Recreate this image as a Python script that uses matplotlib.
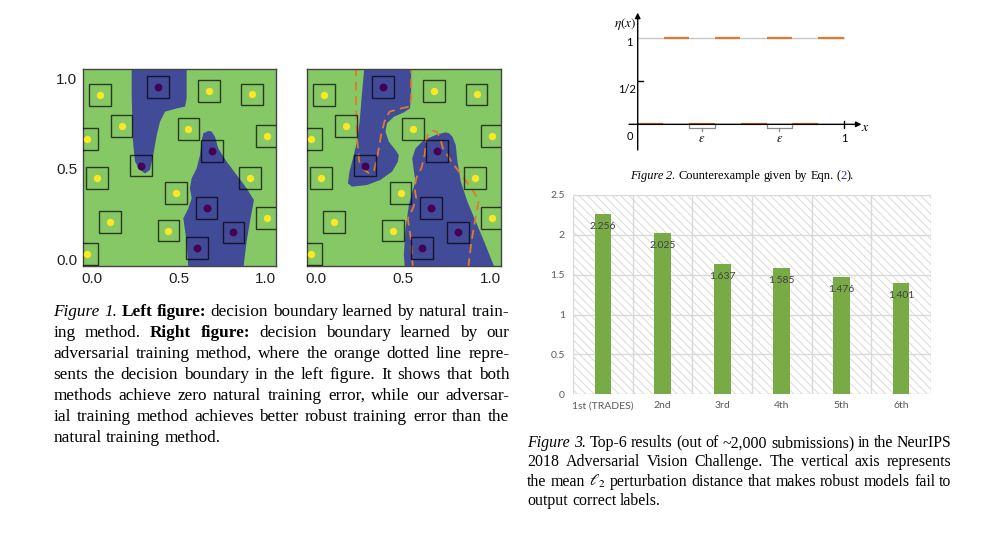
import matplotlib
matplotlib.use('Agg')
import matplotlib.pyplot as plt
import numpy as np
from matplotlib.patches import Polygon, Rectangle

plt.rcParams['mathtext.fontset'] = 'stix'
plt.rcParams['hatch.linewidth'] = 0.6

W, H = 1000, 539
SERIF = 'Liberation Serif'

# ---- Figure 1 data: training points and the learned regions ----
yellow_x = [0.048, 0.675, 0.920, 0.172, 0.556, -0.025, 1.010, 0.029, 0.910, 0.485, 0.105, 0.441, 1.006, -0.025]
yellow_y = [0.907, 0.929, 0.910, 0.738, 0.720, 0.664, 0.683, 0.448, 0.451, 0.369, 0.209, 0.160, 0.231, 0.029]
purple_x = [0.383, 0.282, 0.692, 0.661, 0.815, 0.606]
purple_y = [0.953, 0.518, 0.600, 0.283, 0.150, 0.066]

# natural training boundary (left figure)
left_a_x = [0.230, 0.230, 0.236, 0.249, 0.278, 0.307, 0.335, 0.354, 0.374, 0.393, 0.422, 0.489, 0.537, 0.546, 0.546]
left_a_y = [1.06, 0.907, 0.668, 0.540, 0.494, 0.475, 0.494, 0.576, 0.686, 0.760, 0.815, 0.833, 0.843, 0.888, 1.06]
left_b_x = [0.556, 0.546, 0.527, 0.556, 0.575, 0.565, 0.575, 0.604, 0.623, 0.632, 0.642, 0.671, 0.690, 0.709,
            0.728, 0.776, 0.834, 0.891, 0.933, 0.910, 0.891, 0.872]
left_b_y = [-0.05, 0.099, 0.227, 0.283, 0.338, 0.393, 0.448, 0.503, 0.576, 0.650, 0.696, 0.709, 0.705, 0.677,
            0.613, 0.540, 0.466, 0.393, 0.328, 0.209, 0.099, -0.05]

# adversarial training boundary (right figure)
right_a_x = [0.278, 0.264, 0.251, 0.236, 0.213, 0.193, 0.184, 0.207, 0.293, 0.370, 0.437, 0.470, 0.475, 0.456,
             0.418, 0.399, 0.408, 0.447, 0.504, 0.539, 0.546, 0.546]
right_a_y = [1.06, 0.907, 0.760, 0.650, 0.558, 0.485, 0.420, 0.402, 0.411, 0.439, 0.485, 0.540, 0.576, 0.604,
             0.650, 0.705, 0.751, 0.787, 0.811, 0.833, 0.907, 1.06]
right_b_x = [0.510, 0.504, 0.514, 0.533, 0.552, 0.571, 0.562, 0.552, 0.571, 0.619, 0.696, 0.744, 0.763, 0.782,
             0.801, 0.811, 0.830, 0.868, 0.916, 0.964, 1.026]
right_b_y = [-0.05, 0.026, 0.172, 0.301, 0.374, 0.429, 0.485, 0.558, 0.613, 0.659, 0.690, 0.701, 0.696, 0.677,
             0.631, 0.540, 0.429, 0.319, 0.209, 0.099, -0.05]

# ---- Figure 2 data: eta(x) intervals ----
eta_one = [(0.129, 0.250), (0.374, 0.497), (0.625, 0.748), (0.875, 1.0)]
eta_zero = [(0.0, 0.124), (0.250, 0.374), (0.500, 0.625), (0.748, 0.875)]
eps_brackets = [(0.250, 0.374), (0.625, 0.748)]

# ---- Figure 3 data ----
ranks = ['1st (TRADES)', '2nd', '3rd', '4th', '5th', '6th']
distances = [2.256, 2.025, 1.637, 1.585, 1.476, 1.401]

# ---- captions ----
caption1 = [
    [('Figure 1.', 'i'), (' ', 'r'), ('Left figure:', 'b'), (' decision boundary learned by natural train-', 'r')],
    [('ing method. ', 'r'), ('Right figure:', 'b'), (' decision boundary learned by our', 'r')],
    [('adversarial training method, where the orange dotted line repre-', 'r')],
    [('sents the decision boundary in the left figure. It shows that both', 'r')],
    [('methods achieve zero natural training error, while our adversar-', 'r')],
    [('ial training method achieves better robust training error than the', 'r')],
    [('natural training method.', 'r')],
]
caption2 = [('Figure 2.', 'i'), (' Counterexample given by Eqn. (', 'r'), ('2', 'blue'), (').', 'r')]
caption3 = [
    [('Figure 3.', 'i'), (' Top-6 results (out of ~2,000 submissions) in the NeurIPS', 'r')],
    [('2018 Adversarial Vision Challenge. The vertical axis represents', 'r')],
    [(r'the mean $\ell_2$ perturbation distance that makes robust models fail to', 'r')],
    [('output correct labels.', 'r')],
]

STYLES = {'r': {}, 'i': {'style': 'italic'}, 'b': {'weight': 'bold'}, 'blue': {'color': '#2626c8'}}

GREEN = '#86c766'
BLUE = '#414b98'
ORANGE = '#e07a2e'


def box(px_left, px_top, px_w, px_h):
    return [px_left / W, (H - px_top - px_h) / H, px_w / W, px_h / H]


fig = plt.figure(figsize=(W / 100, H / 100), dpi=100)
renderer = fig.canvas.get_renderer()


def decision_panel(ax, regions, old_regions, show_y):
    ax.set_facecolor(GREEN)
    ax.set_xlim(-0.05, 1.06)
    ax.set_ylim(-0.035, 1.05)
    for rx, ry in regions:
        ax.add_patch(Polygon(np.column_stack([rx, ry]), closed=True, facecolor=BLUE, edgecolor='none', zorder=1))
    for rx, ry in old_regions:
        ax.plot(rx, ry, color=ORANGE, lw=1.3, dashes=(5, 3), zorder=2)
    for x, y in zip(yellow_x + purple_x, yellow_y + purple_y):
        ax.add_patch(Rectangle((x - 0.0625, y - 0.06), 0.125, 0.12, facecolor='none',
                               edgecolor='black', alpha=0.7, lw=1, zorder=3))
    ax.scatter(yellow_x, yellow_y, s=28, color='#fde725', zorder=4, linewidths=0)
    ax.scatter(purple_x, purple_y, s=32, color='#440154', zorder=4, linewidths=0)
    ax.set_xticks([0, 0.5, 1.0])
    ax.set_xticklabels(['0.0', '0.5', '1.0'])
    ax.set_yticks([0, 0.5, 1.0])
    ax.set_yticklabels(['0.0', '0.5', '1.0'] if show_y else [])
    ax.tick_params(length=0, labelsize=11, pad=4)
    for lab in ax.get_xticklabels() + ax.get_yticklabels():
        lab.set_family('Liberation Sans')
        lab.set_color('#222222')
    for s in ax.spines.values():
        s.set_color('#444444')
        s.set_linewidth(1)


ax1 = fig.add_axes(box(83, 69, 193, 197))
decision_panel(ax1, [(left_a_x, left_a_y), (left_b_x, left_b_y)], [], True)
ax2 = fig.add_axes(box(307, 69, 194, 197))
decision_panel(ax2, [(right_a_x, right_a_y), (right_b_x, right_b_y)],
               [(left_a_x, left_a_y), (left_b_x, left_b_y)], False)

# ---- Figure 2: counterexample sketch ----
axe = fig.add_axes(box(620, 5, 260, 155))
axe.set_xlim(-0.0858, 1.1745)
axe.set_ylim(-0.412, 1.378)
axe.axis('off')
axe.plot([0, 1], [1, 1], color='#c8c8c8', lw=1)
axe.annotate('', xy=(1.085, 0), xytext=(-0.042, 0),
             arrowprops=dict(arrowstyle='-|>', color='black', lw=1, mutation_scale=8, shrinkA=0, shrinkB=0))
axe.annotate('', xy=(0, 1.29), xytext=(0, -0.297),
             arrowprops=dict(arrowstyle='-|>', color='black', lw=1, mutation_scale=8, shrinkA=0, shrinkB=0))
for a, b in eta_one:
    axe.plot([a, b], [1, 1], color=ORANGE, lw=1.6, solid_capstyle='butt')
for a, b in eta_zero:
    axe.plot([a, b], [0, 0], color=ORANGE, lw=1.6, solid_capstyle='butt')
for a, b in eps_brackets:
    axe.plot([a, a, b, b], [0, -0.046, -0.046, 0], color='#8a8a8a', lw=0.9)
    axe.plot([(a + b) / 2] * 2, [-0.046, -0.074], color='#8a8a8a', lw=0.9)
    axe.text((a + b) / 2, -0.165, r'$\varepsilon$', ha='center', va='center', fontsize=9)
axe.plot([0, 0.024], [0.5, 0.5], color='black', lw=1)
axe.plot([1, 1], [0.042, -0.046], color='black', lw=1)
axe.text(-0.008, 1.158, r'$\eta(x)$', ha='right', va='center', fontsize=9.5)
axe.text(1.105, -0.03, r'$x$', ha='center', va='center', fontsize=10)
axe.text(-0.04, 0.947, '1', ha='center', va='center', fontsize=8, family='Lato')
axe.text(-0.053, 0.404, '1/2', ha='center', va='center', fontsize=8, family='Lato')
axe.text(-0.04, -0.135, '0', ha='center', va='center', fontsize=8, family='Lato')
axe.text(1.0, -0.158, '1', ha='center', va='center', fontsize=8, family='Lato')

# ---- Figure 3: bar chart ----
ax3 = fig.add_axes(box(573.3, 195, 357.4, 199.3))
xpos = np.arange(len(ranks))
ax3.set_xlim(-0.5, len(ranks) - 0.5)
ax3.set_ylim(0, 2.5)
ax3.add_patch(Rectangle((0, 0), 1, 1, transform=ax3.transAxes, facecolor='white',
                        edgecolor='#d4d4d4', hatch='\\\\\\\\', lw=0, zorder=0))
ax3.set_yticks(np.arange(0, 2.51, 0.5))
ax3.set_yticklabels(['0', '0.5', '1', '1.5', '2', '2.5'])
ax3.set_xticks(xpos)
ax3.set_xticklabels(ranks)
ax3.set_xticks(np.arange(-0.5, len(ranks)), minor=True)
ax3.grid(axis='y', color='#d9d9d9', lw=1, zorder=1)
ax3.grid(axis='x', which='minor', color='#d9d9d9', lw=1, zorder=1)
ax3.grid(axis='x', which='major', visible=False)
ax3.set_axisbelow(True)
ax3.bar(xpos, distances, width=0.28, color='#78ab46', zorder=2)
for x, v in zip(xpos, distances):
    ax3.annotate(f'{v:.3f}', (x, v), xytext=(0, -9), textcoords='offset points', ha='center', va='center',
                 fontsize=7.5, color='#404040', family='Lato', zorder=3)
ax3.tick_params(which='both', length=0, labelsize=7.5, colors='#595959')
ax3.tick_params(axis='y', pad=6)
ax3.tick_params(axis='x', pad=5)
for lab in ax3.get_xticklabels() + ax3.get_yticklabels():
    lab.set_family('Lato')
for s in ax3.spines.values():
    s.set_visible(False)


# ---- caption typesetting ----
def runs_to_words(runs):
    words = []
    prev_space = True
    for text, style in runs:
        parts = text.split(' ')
        for i, p in enumerate(parts):
            if not p:
                continue
            if i == 0 and not prev_space and words:
                words[-1].append((p, style))
            else:
                words.append([(p, style)])
        prev_space = text.endswith(' ')
    return words


def piece_width(piece, style, size):
    t = fig.text(0, 0, piece, fontsize=size, family=SERIF, **STYLES[style])
    w = t.get_window_extent(renderer).width
    t.remove()
    return w


def draw_line(runs, x0, base, size, width=None, center=None):
    words = runs_to_words(runs)
    widths = [sum(piece_width(p, s, size) for p, s in wd) for wd in words]
    gap = 0.25 * size * 100 / 72
    if width is not None and len(words) > 1:
        gap = (width - sum(widths)) / (len(words) - 1)
    if center is not None:
        x0 = center - (sum(widths) + gap * (len(words) - 1)) / 2
    x = x0
    for wd in words:
        for p, s in wd:
            t = fig.text(x / W, (H - base) / H, p, fontsize=size, family=SERIF,
                         ha='left', va='baseline', **STYLES[s])
            x += t.get_window_extent(renderer).width
        x += gap


for i, runs in enumerate(caption1):
    last = i == len(caption1) - 1
    draw_line(runs, 53.3, 316 + 21 * i, 12.4, width=None if last else 456)

draw_line(caption2, 0, 179, 8.9, center=742)

for i, runs in enumerate(caption3):
    last = i == len(caption3) - 1
    draw_line(runs, 527.3, 447.3 + 19.2 * i, 11.4, width=None if last else 424.4)

fig.savefig('out.png', dpi=100)
